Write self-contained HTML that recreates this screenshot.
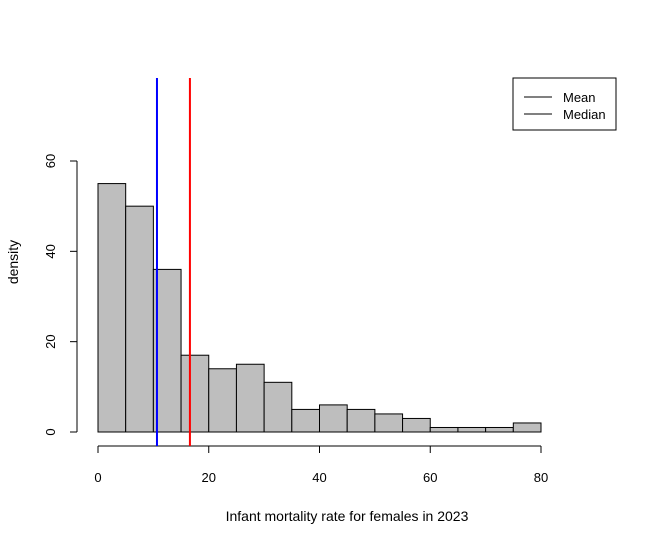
<!DOCTYPE html>
<html><head><meta charset="utf-8"><style>body{margin:0;background:#fff}svg{display:block;font-family:"Liberation Sans",Arial,sans-serif}</style></head>
<body>
<svg id="chart" width="657" height="544" viewBox="0 0 657 544">
<g id="bars"></g><g id="axes"></g><g id="vlines"></g>
<g>
<rect x="513" y="78" width="103" height="52" fill="#fff" stroke="#000"/>
<line x1="524" y1="97" x2="552" y2="97" stroke="#000"/>
<text x="563" y="102" font-size="13">Mean</text>
<line x1="524" y1="114" x2="552" y2="114" stroke="#000"/>
<text x="563" y="119" font-size="13">Median</text>
</g>
<text x="347" y="521" font-size="14" text-anchor="middle">Infant mortality rate for females in 2023</text>
<text transform="translate(18,262) rotate(-90)" font-size="14" text-anchor="middle">density</text>
</svg>
<script>
const binStarts=[0,5,10,15,20,25,30,35,40,45,50,55,60,65,70,75];
const counts=[55,50,36,17,14,15,11,5,6,5,4,3,1,1,1,2];
const xTicks=[0,20,40,60,80];
const yTicks=[0,20,40,60];
const meanVal=10.65, medianVal=16.6;
const binW=5;
const NS="http://www.w3.org/2000/svg";
const xs=v=>98+v*(541-98)/80;
const ys=v=>432-v*(432-161)/60;
function mk(t,a,p){const e=document.createElementNS(NS,t);for(const k in a)e.setAttribute(k,a[k]);p.appendChild(e);return e;}
const bars=document.getElementById('bars');
binStarts.forEach((b,i)=>{
 const r=mk('rect',{x:xs(b),y:ys(counts[i]),width:xs(b+binW)-xs(b),height:ys(0)-ys(counts[i]),fill:'#bebebe',stroke:'#000'},bars);
 
 
});
const ax=document.getElementById('axes');
const xl=mk('line',{x1:xs(xTicks[0]),y1:446,x2:xs(xTicks[xTicks.length-1]),y2:446,stroke:'#000'},ax);


xTicks.forEach(t=>{mk('line',{x1:xs(t),y1:446,x2:xs(t),y2:453,stroke:'#000'},ax);
 const tx=mk('text',{x:xs(t),y:482,'font-size':13,'text-anchor':'middle'},ax);tx.textContent=t;
 
 });
const yl=mk('line',{x1:77,y1:ys(yTicks[0]),x2:77,y2:ys(yTicks[yTicks.length-1]),stroke:'#000'},ax);


yTicks.forEach(t=>{mk('line',{x1:70,y1:ys(t),x2:77,y2:ys(t),stroke:'#000'},ax);
 const tx=mk('text',{transform:`translate(55,${ys(t)}) rotate(-90)`,'font-size':13,'text-anchor':'middle'},ax);tx.textContent=t;
 
 });
const vl=document.getElementById('vlines');
const m=mk('line',{x1:xs(meanVal),y1:78,x2:xs(meanVal),y2:446,stroke:'#0000ff','stroke-width':2},vl);


const md=mk('line',{x1:xs(medianVal),y1:78,x2:xs(medianVal),y2:446,stroke:'#ff0000','stroke-width':2},vl);


</script>
</body></html>
